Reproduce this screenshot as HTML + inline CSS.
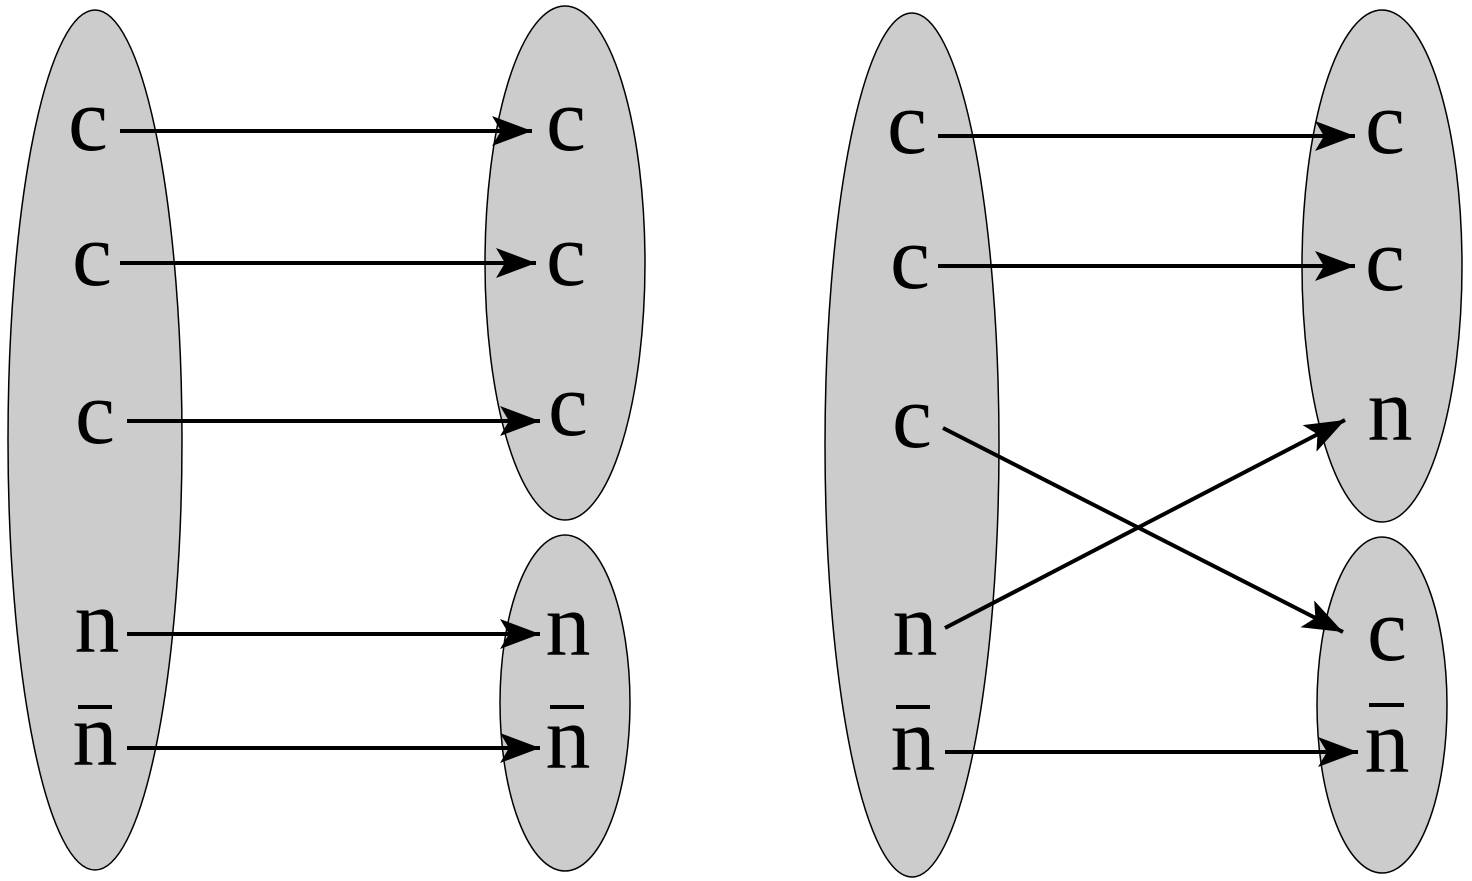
<!DOCTYPE html>
<html><head><meta charset="utf-8"><style>html,body{margin:0;padding:0;background:#fff}svg{display:block}</style></head><body>
<svg width="1472" height="881" viewBox="0 0 1472 881" xmlns="http://www.w3.org/2000/svg">
<defs>
<marker id="a" markerUnits="userSpaceOnUse" markerWidth="44" markerHeight="34" refX="40" refY="17" orient="auto">
<path d="M0,2 L40,17 L0,32 L9,17 Z" fill="#000"/>
</marker>
</defs>
<g fill="#cccccc" stroke="#000" stroke-width="1.5">
<ellipse cx="95" cy="440" rx="87" ry="430"/>
<ellipse cx="565" cy="263" rx="80" ry="257"/>
<ellipse cx="565" cy="703" rx="65" ry="168"/>
<ellipse cx="912" cy="445" rx="87" ry="432"/>
<ellipse cx="1382" cy="266" rx="80" ry="256"/>
<ellipse cx="1382" cy="705" rx="65" ry="168"/>
</g>
<g font-family="Liberation Serif, serif" font-size="90" text-anchor="middle" fill="#000">
<text x="88" y="150">c</text>
<text x="92" y="285">c</text>
<text x="95" y="443">c</text>
<text x="97" y="652">n</text>
<text x="95" y="765">n</text>
<text x="566" y="150">c</text>
<text x="566" y="285">c</text>
<text x="568" y="435">c</text>
<text x="568" y="655">n</text>
<text x="568" y="768">n</text>
<text x="907" y="153">c</text>
<text x="910" y="288">c</text>
<text x="912" y="447">c</text>
<text x="915" y="655">n</text>
<text x="913" y="770">n</text>
<text x="1385" y="153">c</text>
<text x="1385" y="290">c</text>
<text x="1390" y="440">n</text>
<text x="1387" y="660">c</text>
<text x="1387" y="772">n</text>
</g>
<g stroke="#000" stroke-width="4">
<line x1="78" y1="707" x2="112" y2="707"/>
<line x1="550" y1="707" x2="584" y2="707"/>
<line x1="896" y1="707" x2="930" y2="707"/>
<line x1="1369" y1="705" x2="1404" y2="705"/>
</g>
<g stroke="#000" stroke-width="4" marker-end="url(#a)">
<line x1="120" y1="131" x2="532" y2="131"/>
<line x1="120" y1="263" x2="536" y2="263"/>
<line x1="127" y1="421" x2="540" y2="421"/>
<line x1="127" y1="634" x2="540" y2="634"/>
<line x1="127" y1="748" x2="540" y2="748"/>
<line x1="938" y1="136" x2="1355" y2="136"/>
<line x1="938" y1="266" x2="1355" y2="266"/>
<line x1="943" y1="428" x2="1343" y2="632"/>
<line x1="945" y1="628" x2="1345" y2="420"/>
<line x1="945" y1="752" x2="1358" y2="752"/>
</g>
</svg>
</body></html>
